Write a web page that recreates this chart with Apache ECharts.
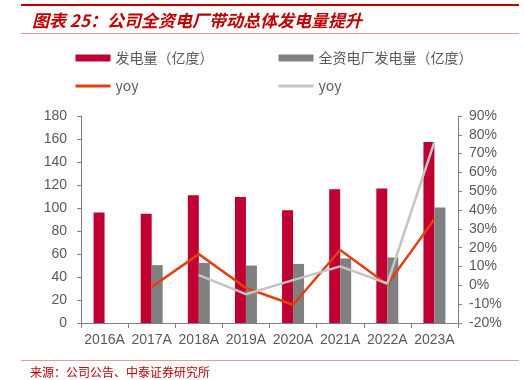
<!DOCTYPE html>
<html>
<head>
<meta charset="utf-8">
<script src="https://cdn.jsdelivr.net/npm/echarts@6/dist/echarts.min.js"></script>
<style>html,body{margin:0;padding:0;background:#fff}#c{width:524px;height:380px}</style>
</head>
<body>
<div id="c"></div>
<script>
const categories = ['2016A','2017A','2018A','2019A','2020A','2021A','2022A','2023A'];
const totalGen = [96, 95, 111, 109.5, 98, 116.3, 117, 157.5];
const ownedGen = [null, 50.3, 52.3, 50, 51.4, 56.1, 57, 100.5];
const totalYoy = [null, -0.9, 16.6, -1.4, -10.3, 18.8, 0.5, 35.2];
const ownedYoy = [null, null, 5.4, -4.7, 2.8, 10.1, 1.0, 76.2];
const leftTicks = {min: 0, max: 180, interval: 20};
const rightTicks = {min: -20, max: 90, interval: 10};

const chart = echarts.init(document.getElementById('c'), null, {renderer: 'canvas'});
const labelFont = {color: '#595959', fontSize: 14, fontFamily: 'Liberation Sans, Arial, sans-serif'};
const legendText = {color: '#595959', fontSize: 14, fontFamily: '"Noto Sans CJK SC", sans-serif'};
const hiddenSymbol = {color: 'rgba(0,0,0,0)', borderColor: 'rgba(0,0,0,0)', borderWidth: 0};
chart.setOption({
  animation: false,
  backgroundColor: '#fff',
  graphic: [
    {type: 'rect', shape: {x: 21, y: 4, width: 498, height: 2}, style: {fill: '#C00000'}},
    {type: 'text', left: 32, top: 12, style: {text: '图表 25：公司全资电厂带动总体发电量提升', fill: '#C00000',
      font: 'italic bold 17px "Noto Sans CJK SC", sans-serif'}},
    {type: 'rect', shape: {x: 21, y: 33, width: 498, height: 1}, style: {fill: '#E89A9A'}},
    {type: 'rect', shape: {x: 21, y: 360, width: 498, height: 1}, style: {fill: '#E89A9A'}},
    {type: 'text', left: 30, top: 366, style: {text: '来源：公司公告、中泰证券研究所', fill: '#C00000',
      font: '12px "Noto Sans CJK SC", sans-serif'}}
  ],
  legend: [
    {left: 69, top: 46, orient: 'vertical', itemWidth: 35, itemHeight: 7, itemGap: 14,
      data: [{name: '发电量（亿度）', icon: 'rect'}, {name: 'yoy', itemStyle: hiddenSymbol, lineStyle: {width: 3}}],
      textStyle: legendText},
    {left: 272, top: 46, orient: 'vertical', itemWidth: 35, itemHeight: 7, itemGap: 14,
      data: [{name: '全资电厂发电量（亿度）', icon: 'rect'}, {name: 'yoy ', itemStyle: hiddenSymbol, lineStyle: {width: 3}}],
      textStyle: legendText}
  ],
  grid: {left: 81, right: 66, top: 116, bottom: 57, containLabel: false},
  xAxis: {
    type: 'category', data: categories,
    axisLine: {lineStyle: {color: '#808080', width: 1}},
    axisTick: {show: true, alignWithLabel: false, length: 5, lineStyle: {color: '#808080'}},
    axisLabel: Object.assign({margin: 10, interval: 0}, labelFont)
  },
  yAxis: [
    {type: 'value', min: leftTicks.min, max: leftTicks.max, interval: leftTicks.interval,
      splitLine: {show: false},
      axisLine: {show: true, lineStyle: {color: '#808080'}},
      axisTick: {show: true, length: 4, lineStyle: {color: '#808080'}},
      axisLabel: Object.assign({margin: 14}, labelFont)},
    {type: 'value', min: rightTicks.min, max: rightTicks.max, interval: rightTicks.interval,
      position: 'right', splitLine: {show: false},
      axisLine: {show: true, lineStyle: {color: '#808080'}},
      axisTick: {show: true, length: 4, lineStyle: {color: '#808080'}},
      axisLabel: Object.assign({margin: 11, formatter: '{value}%'}, labelFont)}
  ],
  series: [
    {name: '发电量（亿度）', type: 'bar', data: totalGen, barWidth: 11, barGap: '0%',
      itemStyle: {color: '#C00030'}},
    {name: '全资电厂发电量（亿度）', type: 'bar', data: ownedGen, barWidth: 11, barGap: '0%',
      itemStyle: {color: '#808080'}},
    {name: 'yoy', type: 'line', yAxisIndex: 1, data: totalYoy, symbol: 'none',
      lineStyle: {color: '#E2400E', width: 2.5}, itemStyle: {color: '#E2400E'}},
    {name: 'yoy ', type: 'line', yAxisIndex: 1, data: ownedYoy, symbol: 'none',
      lineStyle: {color: '#C4C4C4', width: 2.5}, itemStyle: {color: '#C4C4C4'}}
  ]
});
</script>
</body>
</html>
